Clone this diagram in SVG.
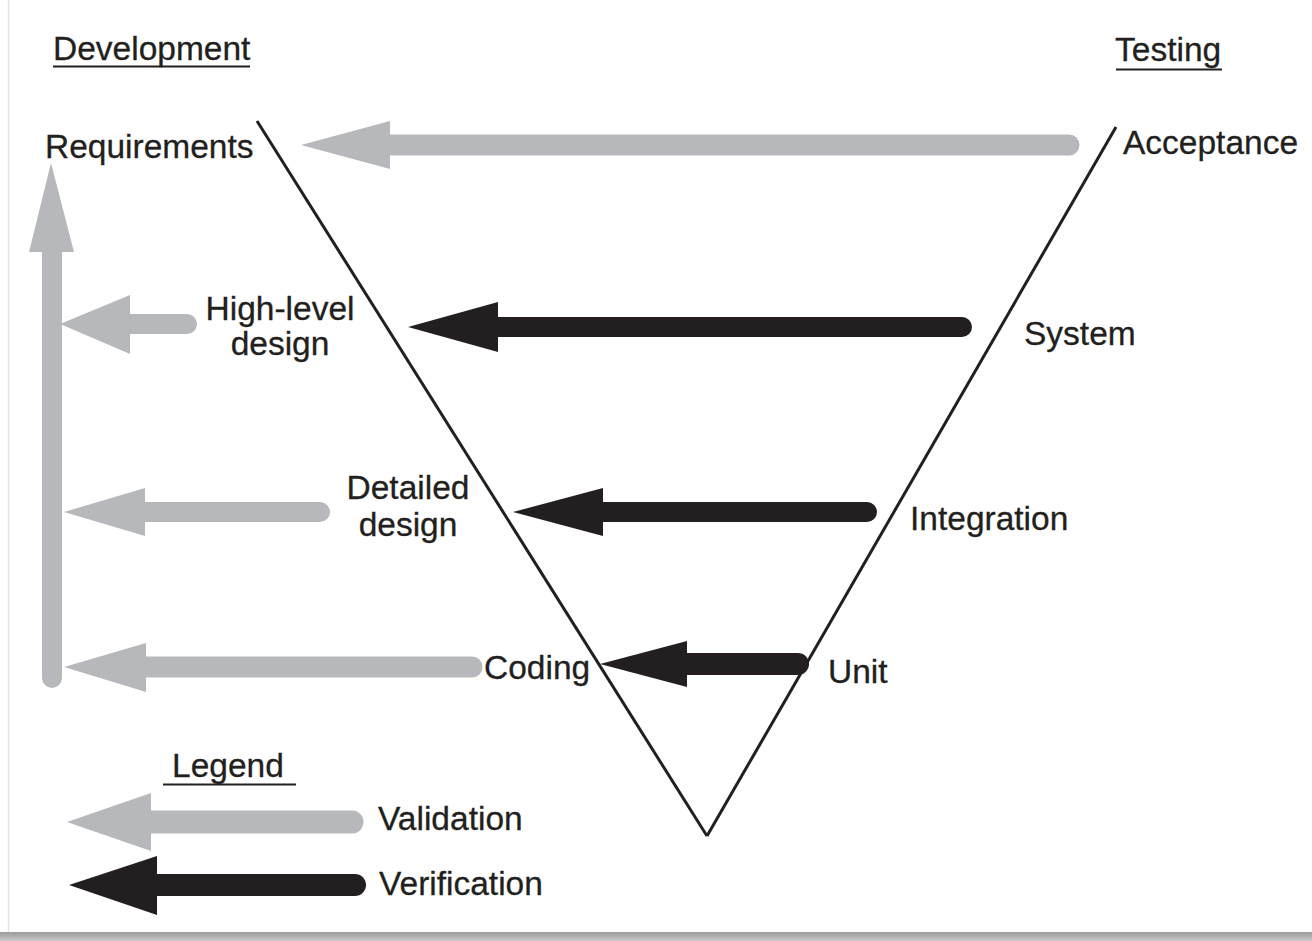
<svg xmlns="http://www.w3.org/2000/svg" width="1312" height="941" viewBox="0 0 1312 941">
<style>
  text { font-family: "Liberation Sans", Arial, sans-serif; font-size: 33.5px; fill: #231f20; stroke: #231f20; stroke-width: 0.3; }
  .mid { text-anchor: middle; }
  .ul { stroke: #231f20; stroke-width: 2; }
  .v { stroke: #231f20; stroke-width: 3; fill: none; stroke-linecap: butt; }
  .gs { stroke: #b6b8bb; stroke-linecap: round; fill: none; }
  .gh { fill: #b6b8bb; }
  .bs { stroke: #231f20; stroke-linecap: round; fill: none; }
  .bh { fill: #231f20; }
</style>
<defs>
  <linearGradient id="shadowB" x1="0" y1="0" x2="0" y2="1">
    <stop offset="0" stop-color="#9c9c9c"/>
    <stop offset="0.5" stop-color="#b0b0b0"/>
    <stop offset="1" stop-color="#c8c8c8"/>
  </linearGradient>
</defs>
<rect x="0" y="0" width="1312" height="941" fill="#ffffff"/>
<line x1="8.5" y1="0" x2="8.5" y2="932" stroke="#e4e4e4" stroke-width="1.5"/>
<rect x="0" y="932" width="1312" height="9" fill="url(#shadowB)"/>

<g id="v-shape">
  <line class="v" x1="257" y1="121" x2="707" y2="836"/>
  <line class="v" x1="1116" y1="127" x2="707" y2="836"/>
</g>

<g id="connectors">
  <g id="acceptance-to-requirements">
    <line class="gs" stroke-width="21" x1="385" y1="145" x2="1069" y2="145"/>
    <polygon class="gh" points="301,145 390,121 390,169"/>
  </g>
  <g id="system-to-highlevel">
    <line class="bs" stroke-width="20" x1="493" y1="327" x2="962" y2="327"/>
    <polygon class="bh" points="408,327 498,302 498,352"/>
  </g>
  <g id="integration-to-detailed">
    <line class="bs" stroke-width="20" x1="598" y1="512" x2="867" y2="512"/>
    <polygon class="bh" points="513,512 603,488 603,536"/>
  </g>
  <g id="unit-to-coding">
    <line class="bs" stroke-width="22" x1="682" y1="664" x2="798" y2="664"/>
    <polygon class="bh" points="600,664 687,641 687,687"/>
  </g>
  <g id="highlevel-to-requirements">
    <line class="gs" stroke-width="20" x1="125" y1="324" x2="187" y2="324"/>
    <polygon class="gh" points="60,324 130,295 130,354"/>
  </g>
  <g id="detailed-to-requirements">
    <line class="gs" stroke-width="20" x1="140" y1="512" x2="320" y2="512"/>
    <polygon class="gh" points="64,512 145,488 145,536"/>
  </g>
  <g id="coding-to-requirements">
    <line class="gs" stroke-width="21" x1="141" y1="667" x2="472" y2="667"/>
    <polygon class="gh" points="64,667 146,643 146,692"/>
  </g>
  <g id="vertical-to-requirements">
    <line class="gs" stroke-width="20" x1="52" y1="247" x2="52" y2="678"/>
    <polygon class="gh" points="51,163 29,252 74,252"/>
  </g>
</g>

<g id="development-title">
  <text x="53" y="60">Development</text>
  <line class="ul" x1="53" y1="66.5" x2="250" y2="66.5"/>
</g>
<g id="testing-title">
  <text x="1115" y="61">Testing</text>
  <line class="ul" x1="1116" y1="69.5" x2="1222" y2="69.5"/>
</g>
<g id="requirements"><text x="45" y="158">Requirements</text></g>
<g id="acceptance"><text x="1123" y="154">Acceptance</text></g>
<g id="high-level-design">
  <text class="mid" x="280" y="320">High-level</text>
  <text class="mid" x="280" y="355">design</text>
</g>
<g id="system"><text x="1024" y="345">System</text></g>
<g id="detailed-design">
  <text class="mid" x="408" y="499">Detailed</text>
  <text class="mid" x="408" y="536">design</text>
</g>
<g id="integration"><text x="910" y="530">Integration</text></g>
<g id="coding"><text x="484" y="679">Coding</text></g>
<g id="unit"><text x="828" y="683">Unit</text></g>

<g id="legend">
  <text x="172" y="777">Legend</text>
  <line class="ul" x1="163" y1="784.5" x2="296" y2="784.5"/>
  <g id="legend-validation">
    <line class="gs" stroke-width="23" x1="146" y1="822" x2="352" y2="822"/>
    <polygon class="gh" points="67,822 151,793 151,851"/>
    <text x="378" y="830">Validation</text>
  </g>
  <g id="legend-verification">
    <line class="bs" stroke-width="22" x1="152" y1="885" x2="355" y2="885"/>
    <polygon class="bh" points="69,885 157,856 157,915"/>
    <text x="379" y="895">Verification</text>
  </g>
</g>
</svg>
